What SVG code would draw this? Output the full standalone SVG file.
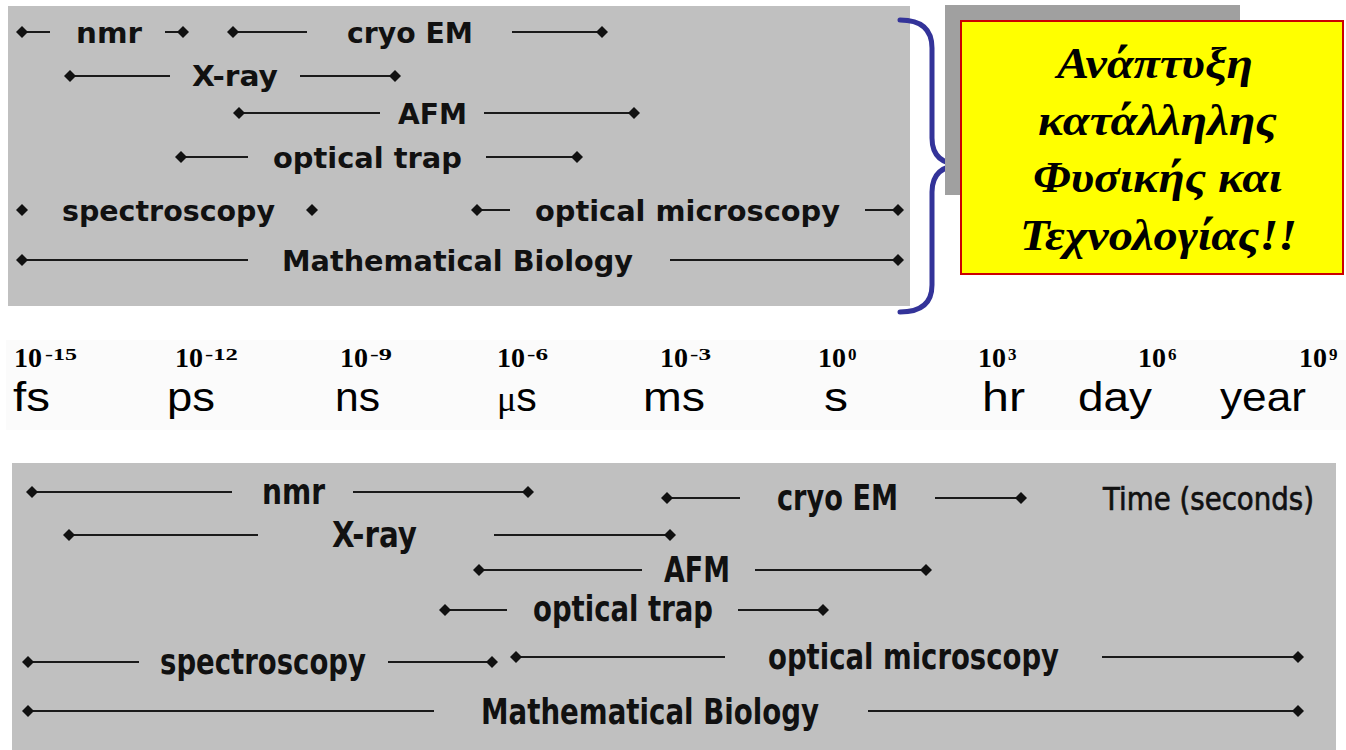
<svg xmlns="http://www.w3.org/2000/svg" xmlns:xlink="http://www.w3.org/1999/xlink" width="1346" height="750" viewBox="0 0 1346 750">
<style>
.panel{fill:#c0c0c0}
.bar{stroke:#1a1a1a;stroke-width:2;fill:none}
.dm{fill:#111}
.tt{font-family:"DejaVu Sans",Verdana,sans-serif;font-weight:bold;font-size:29px;fill:#111}
.bt{font-family:"DejaVu Sans",Verdana,sans-serif;font-weight:bold;font-size:35px;fill:#111}
.tm{font-family:"DejaVu Sans",Verdana,sans-serif;font-size:32px;fill:#111;stroke:#111;stroke-width:0.7px}
.pw{font-family:"Liberation Serif","Times New Roman",serif;font-weight:bold;font-size:28px;fill:#000}
.sup{font-family:"Liberation Serif","Times New Roman",serif;font-weight:bold;font-size:17px;fill:#000}
.unit{font-family:"Liberation Sans",Arial,sans-serif;font-size:41px;fill:#000}
.gr{font-family:"Liberation Serif","Times New Roman",serif;font-weight:bold;font-style:italic;font-size:44px;fill:#000}
</style>
<defs>
<path id="d" class="dm" d="M-6,0 L0,-6 L6,0 L0,6Z"/>
</defs>
<rect width="1346" height="750" fill="#ffffff"/>

<!-- top panel -->
<rect id="top-panel" class="panel" x="8" y="6" width="902" height="300"/>
<g id="top-labels">
<g id="t-nmr"><text class="tt" x="76" y="43" textLength="66" lengthAdjust="spacingAndGlyphs">nmr</text></g>
<g id="t-cryo"><text class="tt" x="347" y="43" textLength="126" lengthAdjust="spacingAndGlyphs">cryo EM</text></g>
<g id="t-xray"><text class="tt" x="192" y="86" textLength="86" lengthAdjust="spacingAndGlyphs">X-ray</text></g>
<g id="t-afm"><text class="tt" x="398" y="124" textLength="69" lengthAdjust="spacingAndGlyphs">AFM</text></g>
<g id="t-trap"><text class="tt" x="273" y="168" textLength="189" lengthAdjust="spacingAndGlyphs">optical trap</text></g>
<g id="t-spec"><text class="tt" x="62" y="221" textLength="213" lengthAdjust="spacingAndGlyphs">spectroscopy</text></g>
<g id="t-micro"><text class="tt" x="535" y="221" textLength="305" lengthAdjust="spacingAndGlyphs">optical microscopy</text></g>
<g id="t-math"><text class="tt" x="282" y="271" textLength="351" lengthAdjust="spacingAndGlyphs">Mathematical Biology</text></g>
</g>

<!-- time scale -->
<rect id="scale-bg" x="6" y="340" width="1340" height="90" fill="#fbfbfb"/>
<g id="scale">
<g id="s-fs"><text class="pw" x="14" y="367">10</text><text class="sup" x="45" y="360" textLength="32" lengthAdjust="spacingAndGlyphs">-15</text><text class="unit" x="13" y="411" textLength="37" lengthAdjust="spacingAndGlyphs">fs</text></g>
<g id="s-ps"><text class="pw" x="175" y="367">10</text><text class="sup" x="205" y="360" textLength="33" lengthAdjust="spacingAndGlyphs">-12</text><text class="unit" x="167" y="411" textLength="48" lengthAdjust="spacingAndGlyphs">ps</text></g>
<g id="s-ns"><text class="pw" x="340" y="367">10</text><text class="sup" x="370" y="360" textLength="22" lengthAdjust="spacingAndGlyphs">-9</text><text class="unit" x="335" y="411" textLength="45" lengthAdjust="spacingAndGlyphs">ns</text></g>
<g id="s-us"><text class="pw" x="497" y="367">10</text><text class="sup" x="527" y="360" textLength="21" lengthAdjust="spacingAndGlyphs">-6</text><text class="unit" x="497" y="411"><tspan font-family="Liberation Serif, serif" font-size="36">μ</tspan><tspan>s</tspan></text></g>
<g id="s-ms"><text class="pw" x="660" y="367">10</text><text class="sup" x="690" y="360" textLength="21" lengthAdjust="spacingAndGlyphs">-3</text><text class="unit" x="643" y="411" textLength="62" lengthAdjust="spacingAndGlyphs">ms</text></g>
<g id="s-s"><text class="pw" x="818" y="367">10</text><text class="sup" x="848" y="360">0</text><text class="unit" x="824" y="411" textLength="24" lengthAdjust="spacingAndGlyphs">s</text></g>
<g id="s-hr"><text class="pw" x="978" y="367">10</text><text class="sup" x="1008" y="360">3</text><text class="unit" x="982" y="411" textLength="43" lengthAdjust="spacingAndGlyphs">hr</text></g>
<g id="s-day"><text class="pw" x="1138" y="367">10</text><text class="sup" x="1168" y="360">6</text><text class="unit" x="1078" y="411" textLength="74" lengthAdjust="spacingAndGlyphs">day</text></g>
<g id="s-year"><text class="pw" x="1299" y="367">10</text><text class="sup" x="1329" y="360">9</text><text class="unit" x="1220" y="411" textLength="86" lengthAdjust="spacingAndGlyphs">year</text></g>
</g>

<!-- bottom panel -->
<rect id="bottom-panel" class="panel" x="12" y="463" width="1324" height="287"/>
<g id="bottom-labels">
<g id="b-nmr"><text class="bt" x="262" y="504" textLength="63" lengthAdjust="spacingAndGlyphs">nmr</text></g>
<g id="b-cryo"><text class="bt" x="777" y="510" textLength="121" lengthAdjust="spacingAndGlyphs">cryo EM</text></g>
<g id="b-time"><text class="tm" x="1103" y="510" textLength="211" lengthAdjust="spacingAndGlyphs">Time (seconds)</text></g>
<g id="b-xray"><text class="bt" x="332" y="547" textLength="85" lengthAdjust="spacingAndGlyphs">X-ray</text></g>
<g id="b-afm"><text class="bt" x="664" y="582" textLength="66" lengthAdjust="spacingAndGlyphs">AFM</text></g>
<g id="b-trap"><text class="bt" x="533" y="621" textLength="180" lengthAdjust="spacingAndGlyphs">optical trap</text></g>
<g id="b-spec"><text class="bt" x="160" y="674" textLength="206" lengthAdjust="spacingAndGlyphs">spectroscopy</text></g>
<g id="b-micro"><text class="bt" x="768" y="669" textLength="291" lengthAdjust="spacingAndGlyphs">optical microscopy</text></g>
<g id="b-math"><text class="bt" x="481" y="724" textLength="338" lengthAdjust="spacingAndGlyphs">Mathematical Biology</text></g>
</g>

<!-- connectors: range bars -->
<g id="connectors">
<!-- top -->
<line class="bar" x1="22" y1="32" x2="50" y2="32"/><use href="#d" x="22" y="32"/>
<line class="bar" x1="165" y1="32" x2="183" y2="32"/><use href="#d" x="183" y="32"/>
<line class="bar" x1="233" y1="32" x2="307" y2="32"/><use href="#d" x="233" y="32"/>
<line class="bar" x1="512" y1="32" x2="602" y2="32"/><use href="#d" x="602" y="32"/>
<line class="bar" x1="70" y1="76" x2="170" y2="76"/><use href="#d" x="70" y="76"/>
<line class="bar" x1="300" y1="76" x2="395" y2="76"/><use href="#d" x="395" y="76"/>
<line class="bar" x1="239" y1="113" x2="380" y2="113"/><use href="#d" x="239" y="113"/>
<line class="bar" x1="484" y1="113" x2="634" y2="113"/><use href="#d" x="634" y="113"/>
<line class="bar" x1="181" y1="157" x2="248" y2="157"/><use href="#d" x="181" y="157"/>
<line class="bar" x1="486" y1="157" x2="577" y2="157"/><use href="#d" x="577" y="157"/>
<use href="#d" x="22" y="210"/><use href="#d" x="312" y="210"/>
<line class="bar" x1="477" y1="210" x2="510" y2="210"/><use href="#d" x="477" y="210"/>
<line class="bar" x1="865" y1="210" x2="898" y2="210"/><use href="#d" x="898" y="210"/>
<line class="bar" x1="22" y1="260" x2="248" y2="260"/><use href="#d" x="22" y="260"/>
<line class="bar" x1="670" y1="260" x2="898" y2="260"/><use href="#d" x="898" y="260"/>
<!-- bottom -->
<line class="bar" x1="32" y1="492" x2="232" y2="492"/><use href="#d" x="32" y="492"/>
<line class="bar" x1="353" y1="492" x2="528" y2="492"/><use href="#d" x="528" y="492"/>
<line class="bar" x1="667" y1="498" x2="740" y2="498"/><use href="#d" x="667" y="498"/>
<line class="bar" x1="935" y1="498" x2="1021" y2="498"/><use href="#d" x="1021" y="498"/>
<line class="bar" x1="69" y1="535" x2="258" y2="535"/><use href="#d" x="69" y="535"/>
<line class="bar" x1="494" y1="535" x2="670" y2="535"/><use href="#d" x="670" y="535"/>
<line class="bar" x1="479" y1="570" x2="642" y2="570"/><use href="#d" x="479" y="570"/>
<line class="bar" x1="755" y1="570" x2="926" y2="570"/><use href="#d" x="926" y="570"/>
<line class="bar" x1="445" y1="610" x2="507" y2="610"/><use href="#d" x="445" y="610"/>
<line class="bar" x1="738" y1="610" x2="823" y2="610"/><use href="#d" x="823" y="610"/>
<line class="bar" x1="28" y1="662" x2="139" y2="662"/><use href="#d" x="28" y="662"/>
<line class="bar" x1="388" y1="662" x2="492" y2="662"/><use href="#d" x="492" y="662"/>
<line class="bar" x1="516" y1="657" x2="725" y2="657"/><use href="#d" x="516" y="657"/>
<line class="bar" x1="1102" y1="657" x2="1298" y2="657"/><use href="#d" x="1298" y="657"/>
<line class="bar" x1="28" y1="711" x2="434" y2="711"/><use href="#d" x="28" y="711"/>
<line class="bar" x1="868" y1="711" x2="1298" y2="711"/><use href="#d" x="1298" y="711"/>
</g>

<!-- brace and callout -->
<g id="brace">
<path d="M 900 20 Q 932 20 932 48 L 932 138 Q 932 165 963 165 Q 932 165 932 192 L 932 285 Q 932 312 900 312" fill="none" stroke="#333399" stroke-width="5" stroke-linecap="round"/>
</g>
<g id="callout">
<rect x="945" y="5" width="295" height="190" fill="#a0a0a0"/>
<rect x="961" y="21" width="382" height="253" fill="#ffff00" stroke="#cc0000" stroke-width="2"/>
<text class="gr" x="1057" y="78" textLength="196" lengthAdjust="spacingAndGlyphs">Ανάπτυξη</text>
<text class="gr" x="1038" y="135" textLength="239" lengthAdjust="spacingAndGlyphs">κατάλληλης</text>
<text class="gr" x="1033" y="192" textLength="249" lengthAdjust="spacingAndGlyphs">Φυσικής και</text>
<text class="gr" x="1020" y="250" textLength="277" lengthAdjust="spacingAndGlyphs">Τεχνολογίας!!</text>
</g>
</svg>
